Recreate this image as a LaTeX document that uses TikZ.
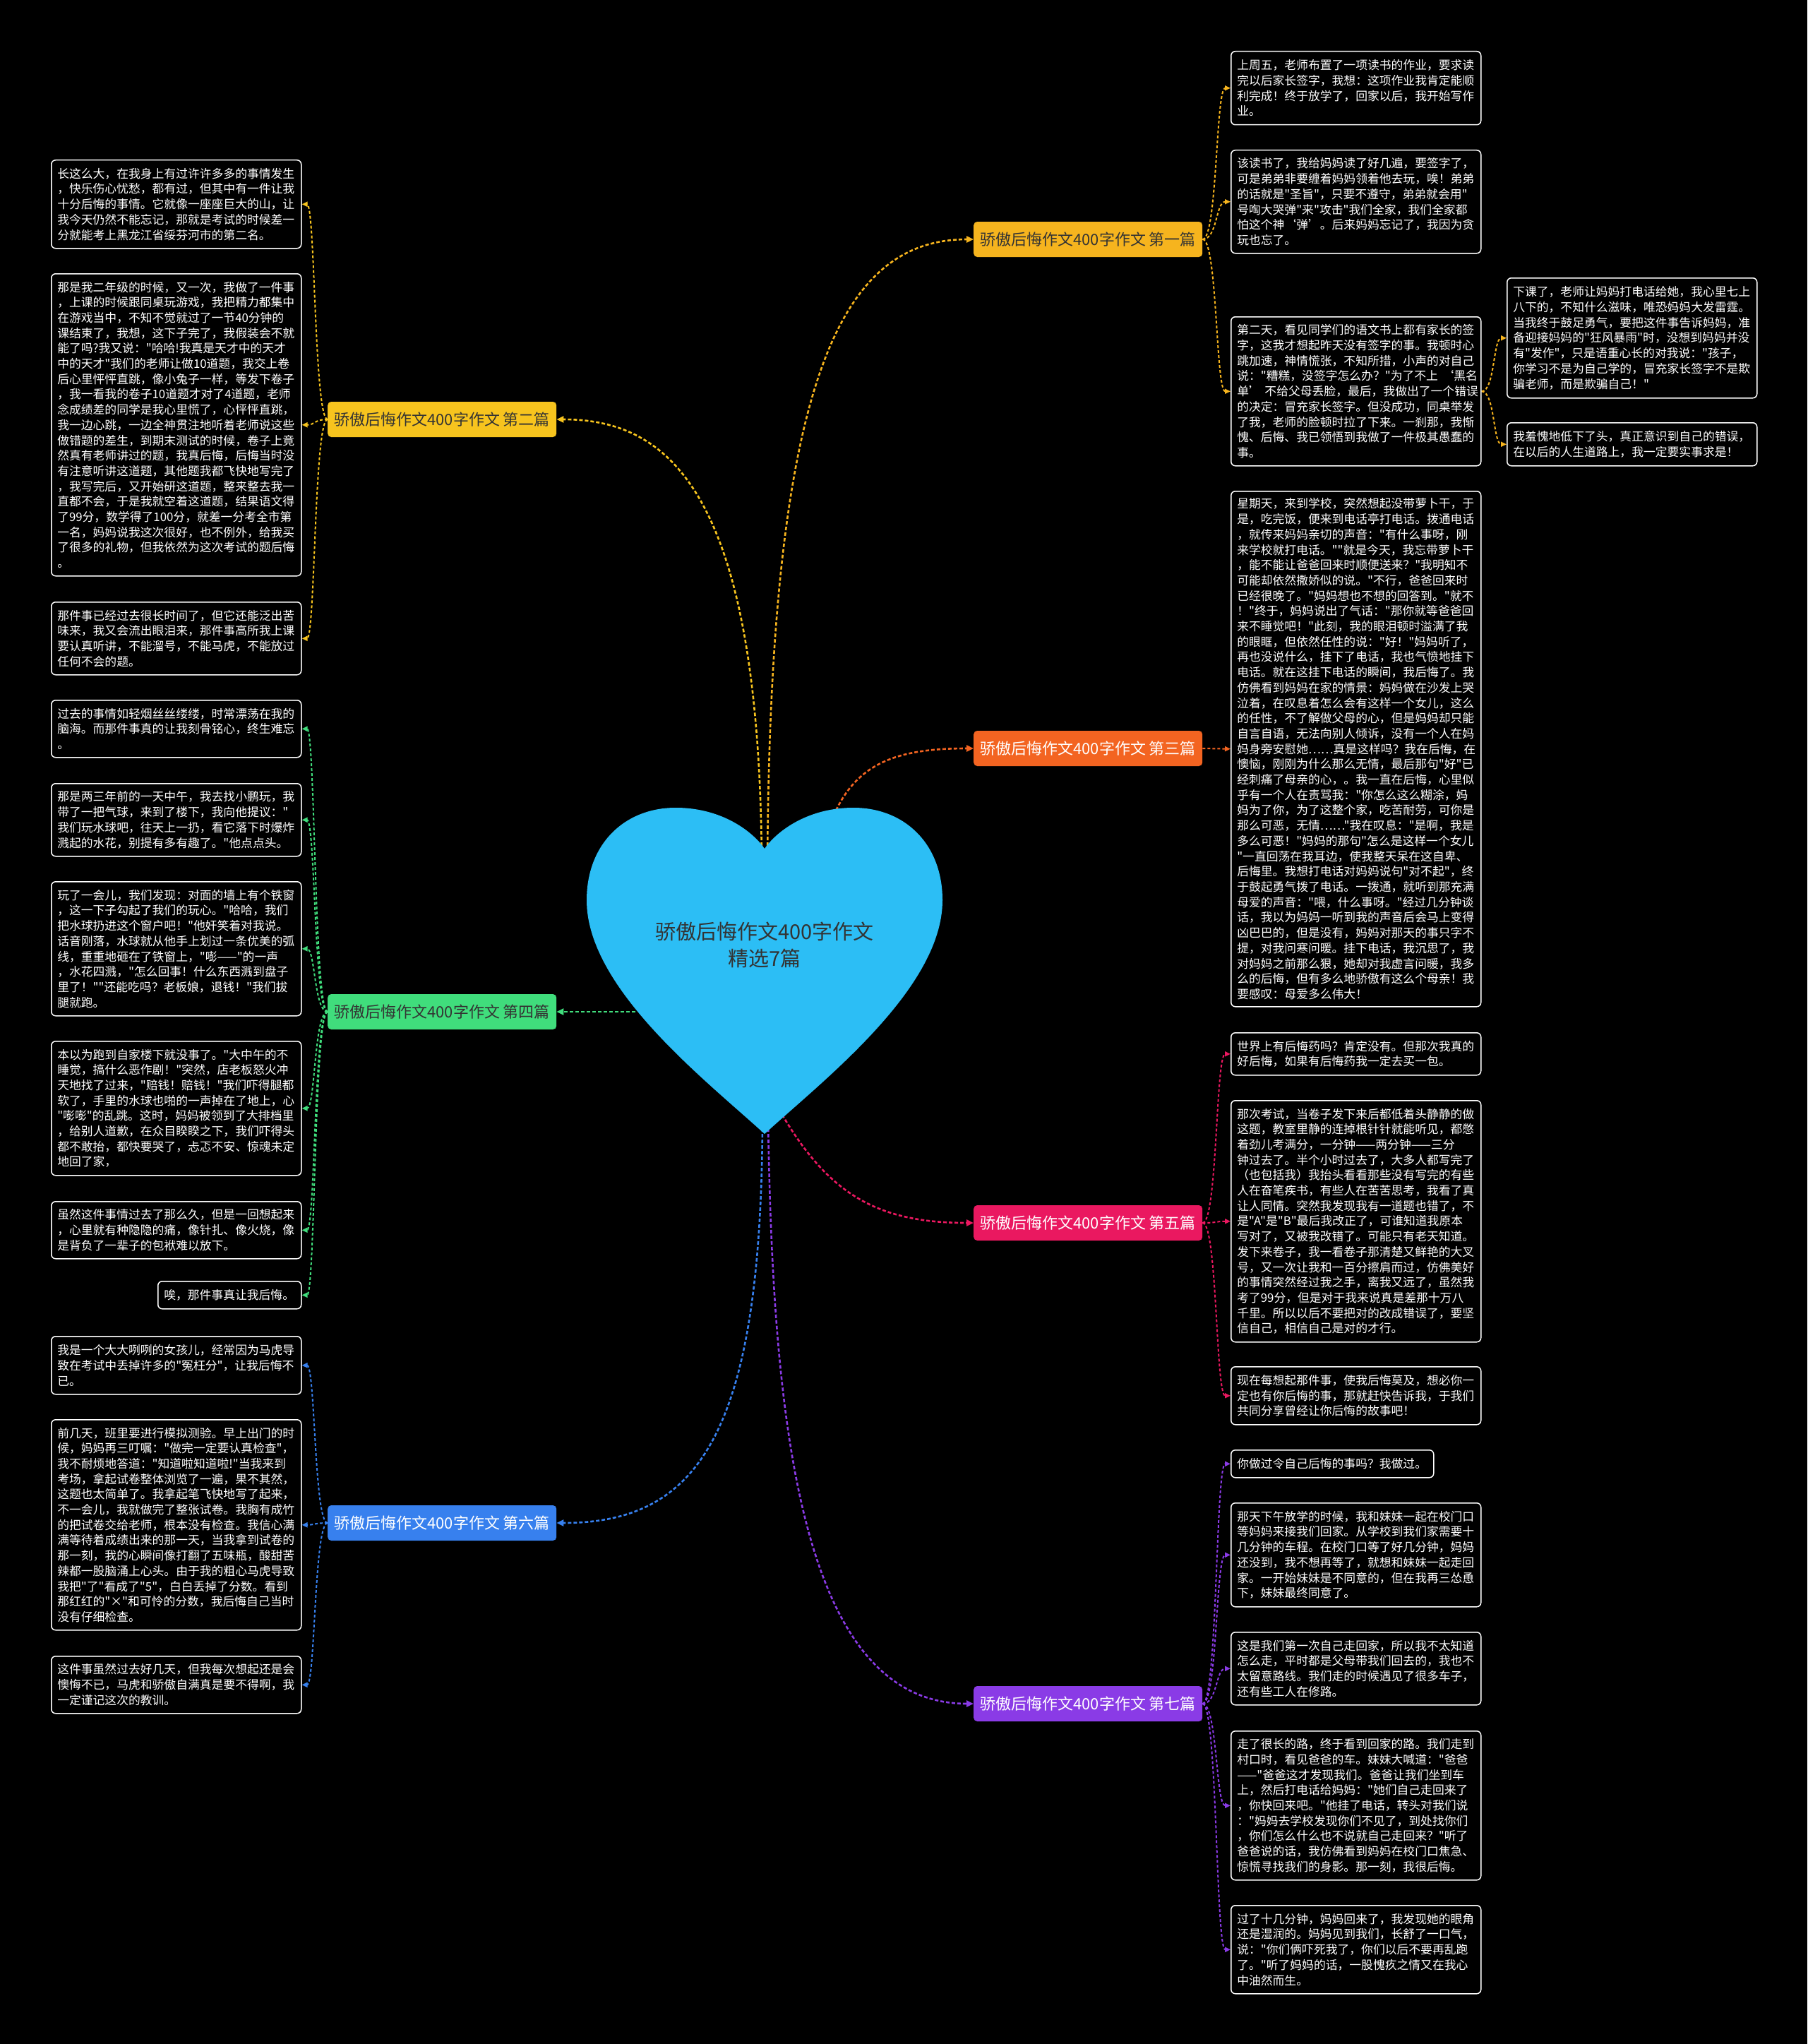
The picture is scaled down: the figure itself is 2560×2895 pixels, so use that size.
\documentclass[tikz,border=0pt]{standalone}
\usepackage{fontspec}
\newfontfamily\cjk{Noto Sans CJK SC}
\usetikzlibrary{arrows.meta}
\definecolor{c1}{RGB}{246,180,30}
\definecolor{c2}{RGB}{247,196,30}
\definecolor{c3}{RGB}{243,100,33}
\definecolor{c4}{RGB}{64,221,124}
\definecolor{c5}{RGB}{234,24,96}
\definecolor{c6}{RGB}{55,128,238}
\definecolor{c7}{RGB}{138,59,230}
\definecolor{hc}{RGB}{44,190,245}
\definecolor{dk}{RGB}{51,51,51}
\pgfdeclarelayer{bg}
\pgfsetlayers{bg,main}
\tikzset{
 leaf/.style={draw=white, line width=1.5pt, rounded corners=6pt, fill=black, text=white, align=left, anchor=north west, inner xsep=8.5pt, inner ysep=0pt, font=\cjk\fontsize{16.8pt}{21.7pt}\selectfont, text width=337pt},
 br/.style={rounded corners=5pt, minimum width=324pt, minimum height=50pt, inner sep=0pt, font=\cjk\fontsize{22pt}{26pt}\selectfont, anchor=west},
 mainconn/.style={line width=2.6pt, dash pattern=on 5pt off 3pt, -{Triangle[length=10pt,width=9pt]}},
 subconn/.style={line width=2pt, dash pattern=on 4pt off 3pt, -{Triangle[length=8pt,width=7pt]}}
}
\begin{document}
\begin{tikzpicture}[x=1pt,y=-1pt]
\useasboundingbox (0,0) rectangle (2560,2895);

% ---------- branch nodes ----------
\node[br, fill=c1, text=dk] (b1) at (1379,339) {骄傲后悔作文400字作文 第一篇};
\node[br, fill=c2, text=dk] (b2) at (464,594) {骄傲后悔作文400字作文 第二篇};
\node[br, fill=c3, text=white] (b3) at (1379,1060) {骄傲后悔作文400字作文 第三篇};
\node[br, fill=c4, text=dk] (b4) at (464,1433) {骄傲后悔作文400字作文 第四篇};
\node[br, fill=c5, text=white] (b5) at (1379,1732) {骄傲后悔作文400字作文 第五篇};
\node[br, fill=c6, text=white] (b6) at (464,2157) {骄傲后悔作文400字作文 第六篇};
\node[br, fill=c7, text=white] (b7) at (1379,2413) {骄傲后悔作文400字作文 第七篇};

% ---------- 第一篇 ----------
\node[leaf, minimum height=104pt] (r11) at (1743,72) {上周五，老师布置了一项读书的作业，要求读\\完以后家长签字，我想：这项作业我肯定能顺\\利完成！终于放学了，回家以后，我开始写作\\业。};
\node[leaf, minimum height=146pt] (r12) at (1743,212) {该读书了，我给妈妈读了好几遍，要签字了，\\可是弟弟非要缠着妈妈领着他去玩，唉！弟弟\\的话就是"圣旨"，只要不遵守，弟弟就会用"\\号啕大哭弹"来"攻击"我们全家，我们全家都\\怕这个神‘弹’。后来妈妈忘记了，我因为贪\\玩也忘了。};
\node[leaf, minimum height=211pt] (r13) at (1743,448) {第二天，看见同学们的语文书上都有家长的签\\字，这我才想起昨天没有签字的事。我顿时心\\跳加速，神情慌张，不知所措，小声的对自己\\说："糟糕，没签字怎么办？"为了不上~‘黑名\\单’~不给父母丢脸，最后，我做出了一个错误\\的决定：冒充家长签字。但没成功，同桌举发\\了我，老师的脸顿时拉了下来。一刹那，我惭\\愧、后悔、我已领悟到我做了一件极其愚蠢的\\事。};
\node[leaf, minimum height=170pt] (r13a) at (2134,393) {下课了，老师让妈妈打电话给她，我心里七上\\八下的，不知什么滋味，唯恐妈妈大发雷霆。\\当我终于鼓足勇气，要把这件事告诉妈妈，准\\备迎接妈妈的"狂风暴雨"时，没想到妈妈并没\\有"发作"，只是语重心长的对我说："孩子，\\你学习不是为自己学的，冒充家长签字不是欺\\骗老师，而是欺骗自己！"};
\node[leaf, minimum height=61pt] (r13b) at (2134,598) {我羞愧地低下了头，真正意识到自己的错误，\\在以后的人生道路上，我一定要实事求是！};

% ---------- 第二篇 ----------
\node[leaf, minimum height=125pt] (l21) at (72,226) {长这么大，在我身上有过许许多多的事情发生\\，快乐伤心忧愁，都有过，但其中有一件让我\\十分后悔的事情。它就像一座座巨大的山，让\\我今天仍然不能忘记，那就是考试的时候差一\\分就能考上黑龙江省绥芬河市的第二名。};
\node[leaf, minimum height=428pt] (l22) at (72,387) {那是我二年级的时候，又一次，我做了一件事\\，上课的时候跟同桌玩游戏，我把精力都集中\\在游戏当中，不知不觉就过了一节40分钟的\\课结束了，我想，这下子完了，我假装会不就\\能了吗?我又说："哈哈!我真是天才中的天才\\中的天才"我们的老师让做10道题，我交上卷\\后心里怦怦直跳，像小兔子一样，等发下卷子\\，我一看我的卷子10道题才对了4道题，老师\\念成绩差的同学是我心里慌了，心怦怦直跳，\\我一边心跳，一边全神贯注地听着老师说这些\\做错题的差生，到期末测试的时候，卷子上竟\\然真有老师讲过的题，我真后悔，后悔当时没\\有注意听讲这道题，其他题我都飞快地写完了\\，我写完后，又开始研这道题，整来整去我一\\直都不会，于是我就空着这道题，结果语文得\\了99分，数学得了100分，就差一分考全市第\\一名，妈妈说我这次很好，也不例外，给我买\\了很多的礼物，但我依然为这次考试的题后悔\\。};
\node[leaf, minimum height=103pt] (l23) at (72,852) {那件事已经过去很长时间了，但它还能泛出苦\\味来，我又会流出眼泪来，那件事高所我上课\\要认真听讲，不能溜号，不能马虎，不能放过\\任何不会的题。};

% ---------- 第三篇 ----------
\node[leaf, minimum height=730pt] (r31) at (1743,695) {星期天，来到学校，突然想起没带萝卜干，于\\是，吃完饭，便来到电话亭打电话。拨通电话\\，就传来妈妈亲切的声音："有什么事呀，刚\\来学校就打电话。""就是今天，我忘带萝卜干\\，能不能让爸爸回来时顺便送来？"我明知不\\可能却依然撒娇似的说。"不行，爸爸回来时\\已经很晚了。"妈妈想也不想的回答到。"就不\\！"终于，妈妈说出了气话："那你就等爸爸回\\来不睡觉吧！"此刻，我的眼泪顿时溢满了我\\的眼眶，但依然任性的说："好！"妈妈听了，\\再也没说什么，挂下了电话，我也气愤地挂下\\电话。就在这挂下电话的瞬间，我后悔了。我\\仿佛看到妈妈在家的情景：妈妈做在沙发上哭\\泣着，在叹息着怎么会有这样一个女儿，这么\\的任性，不了解做父母的心，但是妈妈却只能\\自言自语，无法向别人倾诉，没有一个人在妈\\妈身旁安慰她……真是这样吗？我在后悔，在\\懊恼，刚刚为什么那么无情，最后那句"好"已\\经刺痛了母亲的心，。我一直在后悔，心里似\\乎有一个人在责骂我："你怎么这么糊涂，妈\\妈为了你，为了这整个家，吃苦耐劳，可你是\\那么可恶，无情……"我在叹息："是啊，我是\\多么可恶！"妈妈的那句"怎么是这样一个女儿\\"一直回荡在我耳边，使我整天呆在这自卑、\\后悔里。我想打电话对妈妈说句"对不起"，终\\于鼓起勇气拨了电话。一拨通，就听到那充满\\母爱的声音："喂，什么事呀。"经过几分钟谈\\话，我以为妈妈一听到我的声音后会马上变得\\凶巴巴的，但是没有，妈妈对那天的事只字不\\提，对我问寒问暖。挂下电话，我沉思了，我\\对妈妈之前那么狠，她却对我虚言问暖，我多\\么的后悔，但有多么地骄傲有这么个母亲！我\\要感叹：母爱多么伟大！};

% ---------- 第四篇 ----------
\node[leaf, minimum height=81pt] (l41) at (72,991) {过去的事情如轻烟丝丝缕缕，时常漂荡在我的\\脑海。而那件事真的让我刻骨铭心，终生难忘\\。};
\node[leaf, minimum height=103pt] (l42) at (72,1109) {那是两三年前的一天中午，我去找小鹏玩，我\\带了一把气球，来到了楼下，我向他提议："\\我们玩水球吧，往天上一扔，看它落下时爆炸\\溅起的水花，别提有多有趣了。"他点点头。};
\node[leaf, minimum height=190pt] (l43) at (72,1248) {玩了一会儿，我们发现：对面的墙上有个铁窗\\，这一下子勾起了我们的玩心。"哈哈，我们\\把水球扔进这个窗户吧！"他奸笑着对我说。\\话音刚落，水球就从他手上划过一条优美的弧\\线，重重地砸在了铁窗上，"嘭——"的一声\\，水花四溅，"怎么回事！什么东西溅到盘子\\里了！""还能吃吗？老板娘，退钱！"我们拔\\腿就跑。};
\node[leaf, minimum height=190pt] (l44) at (72,1474) {本以为跑到自家楼下就没事了。"大中午的不\\睡觉，搞什么恶作剧！"突然，店老板怒火冲\\天地找了过来，"赔钱！赔钱！"我们吓得腿都\\软了，手里的水球也啪的一声掉在了地上，心\\"嘭嘭"的乱跳。这时，妈妈被领到了大排档里\\，给别人道歉，在众目睽睽之下，我们吓得头\\都不敢抬，都快要哭了，忐忑不安、惊魂未定\\地回了家，};
\node[leaf, minimum height=81pt] (l45) at (72,1701) {虽然这件事情过去了那么久，但是一回想起来\\，心里就有种隐隐的痛，像针扎、像火烧，像\\是背负了一辈子的包袱难以放下。};
\node[leaf, minimum height=39pt, text width=186pt] (l46) at (223,1814) {唉，那件事真让我后悔。};

% ---------- 第五篇 ----------
\node[leaf, minimum height=60pt] (r51) at (1743,1462) {世界上有后悔药吗？肯定没有。但那次我真的\\好后悔，如果有后悔药我一定去买一包。};
\node[leaf, minimum height=342pt] (r52) at (1743,1558) {那次考试，当卷子发下来后都低着头静静的做\\这题，教室里静的连掉根针针就能听见，都憋\\着劲儿考满分，一分钟——两分钟——三分\\钟过去了。半个小时过去了，大多人都写完了\\（也包括我）我抬头看看那些没有写完的有些\\人在奋笔疾书，有些人在苦苦思考，我看了真\\让人同情。突然我发现我有一道题也错了，不\\是"A"是"B"最后我改正了，可谁知道我原本\\写对了，又被我改错了。可能只有老天知道。\\发下来卷子，我一看卷子那清楚又鲜艳的大叉\\号，又一次让我和一百分擦肩而过，仿佛美好\\的事情突然经过我之手，离我又远了，虽然我\\考了99分，但是对于我来说真是差那十万八\\千里。所以以后不要把对的改成错误了，要坚\\信自己，相信自己是对的才行。};
\node[leaf, minimum height=82pt] (r53) at (1743,1935) {现在每想起那件事，使我后悔莫及，想必你一\\定也有你后悔的事，那就赶快告诉我，于我们\\共同分享曾经让你后悔的故事吧！};

% ---------- 第六篇 ----------
\node[leaf, minimum height=82pt] (l61) at (72,1892) {我是一个大大咧咧的女孩儿，经常因为马虎导\\致在考试中丢掉许多的"冤枉分"，让我后悔不\\已。};
\node[leaf, minimum height=298pt] (l62) at (72,2010) {前几天，班里要进行模拟测验。早上出门的时\\候，妈妈再三叮嘱："做完一定要认真检查"，\\我不耐烦地答道："知道啦知道啦!"当我来到\\考场，拿起试卷整体浏览了一遍，果不其然，\\这题也太简单了。我拿起笔飞快地写了起来，\\不一会儿，我就做完了整张试卷。我胸有成竹\\的把试卷交给老师，根本没有检查。我信心满\\满等待着成绩出来的那一天，当我拿到试卷的\\那一刻，我的心瞬间像打翻了五味瓶，酸甜苦\\辣都一股脑涌上心头。由于我的粗心马虎导致\\我把"了"看成了"5"，白白丢掉了分数。看到\\那红红的"×"和可怜的分数，我后悔自己当时\\没有仔细检查。};
\node[leaf, minimum height=81pt] (l63) at (72,2345) {这件事虽然过去好几天，但我每次想起还是会\\懊悔不已，马虎和骄傲自满真是要不得啊，我\\一定谨记这次的教训。};

% ---------- 第七篇 ----------
\node[leaf, minimum height=39pt, text width=270pt] (r71) at (1743,2053) {你做过令自己后悔的事吗？我做过。};
\node[leaf, minimum height=147pt] (r72) at (1743,2128) {那天下午放学的时候，我和妹妹一起在校门口\\等妈妈来接我们回家。从学校到我们家需要十\\几分钟的车程。在校门口等了好几分钟，妈妈\\还没到，我不想再等了，就想和妹妹一起走回\\家。一开始妹妹是不同意的，但在我再三怂恿\\下，妹妹最终同意了。};
\node[leaf, minimum height=103pt] (r73) at (1743,2311) {这是我们第一次自己走回家，所以我不太知道\\怎么走，平时都是父母带我们回去的，我也不\\太留意路线。我们走的时候遇见了很多车子，\\还有些工人在修路。};
\node[leaf, minimum height=211pt] (r74) at (1743,2451) {走了很长的路，终于看到回家的路。我们走到\\村口时，看见爸爸的车。妹妹大喊道："爸爸\\——"爸爸这才发现我们。爸爸让我们坐到车\\上，然后打电话给妈妈："她们自己走回来了\\，你快回来吧。"他挂了电话，转头对我们说\\："妈妈去学校发现你们不见了，到处找你们\\，你们怎么什么也不说就自己走回来？"听了\\爸爸说的话，我仿佛看到妈妈在校门口焦急、\\惊慌寻找我们的身影。那一刻，我很后悔。};
\node[leaf, minimum height=125pt] (r75) at (1743,2698) {过了十几分钟，妈妈回来了，我发现她的眼角\\还是湿润的。妈妈见到我们，长舒了一口气，\\说："你们俩吓死我了，你们以后不要再乱跑\\了。"听了妈妈的话，一股愧疚之情又在我心\\中油然而生。};

% ---------- heart ----------
\fill[hc] (1083,1606) .. controls (1000,1530) and (831,1400) .. (831,1275)
  .. controls (831,1195) and (885,1144) .. (957,1144)
  .. controls (1025,1144) and (1068,1180) .. (1083,1202)
  .. controls (1098,1180) and (1141,1144) .. (1209,1144)
  .. controls (1281,1144) and (1335,1195) .. (1335,1275)
  .. controls (1335,1400) and (1166,1530) .. (1083,1606) -- cycle;
\node[font=\cjk\fontsize{29pt}{38pt}\selectfont, text=dk, align=center] (root) at (1083,1338) {骄傲后悔作文400字作文\\精选7篇};

\coordinate (s1) at (1087,1230);
\coordinate (s2) at (1079,1230);
\coordinate (s3) at (1170,1185);
\coordinate (s4) at (900,1433);
\coordinate (s5) at (1100,1565);
\coordinate (s6) at (1080,1590);
\coordinate (s7) at (1088,1590);

\begin{pgfonlayer}{bg}
\fill[black] (0,0) rectangle (2560,2895);
% main connectors
\draw[mainconn, c1] (s1) .. controls (1090,540) and (1190,339) .. (b1.west);
\draw[mainconn, c2] (s2) .. controls (1077,700) and (950,594) .. (b2.east);
\draw[mainconn, c3] (s3) .. controls (1200,1085) and (1260,1060) .. (b3.west);
\draw[mainconn, c4] (s4) -- (b4.east);
\draw[mainconn, c5] (s5) .. controls (1170,1690) and (1240,1732) .. (b5.west);
\draw[mainconn, c6] (s6) .. controls (1078,2030) and (990,2157) .. (b6.east);
\draw[mainconn, c7] (s7) .. controls (1095,2000) and (1130,2413) .. (b7.west);
% sub connectors right
\foreach \c in {r11,r12,r13} \draw[subconn, c1] (b1.east) .. controls +(21,0) and +(-21,0) .. (\c.west);
\foreach \c in {r13a,r13b} \draw[subconn, c1] (r13.east) .. controls +(19,0) and +(-19,0) .. (\c.west);
\draw[subconn, c3] (b3.east) -- (r31.west);
\foreach \c in {r51,r52,r53} \draw[subconn, c5] (b5.east) .. controls +(21,0) and +(-21,0) .. (\c.west);
\foreach \c in {r71,r72,r73,r74,r75} \draw[subconn, c7] (b7.east) .. controls +(21,0) and +(-21,0) .. (\c.west);
% sub connectors left
\foreach \c in {l21,l22,l23} \draw[subconn, c2] (b2.west) .. controls +(-19,0) and +(19,0) .. (\c.east);
\foreach \c in {l41,l42,l43,l44,l45,l46} \draw[subconn, c4] (b4.west) .. controls +(-19,0) and +(19,0) .. (\c.east);
\foreach \c in {l61,l62,l63} \draw[subconn, c6] (b6.west) .. controls +(-19,0) and +(19,0) .. (\c.east);
\end{pgfonlayer}
\end{tikzpicture}
\end{document}
